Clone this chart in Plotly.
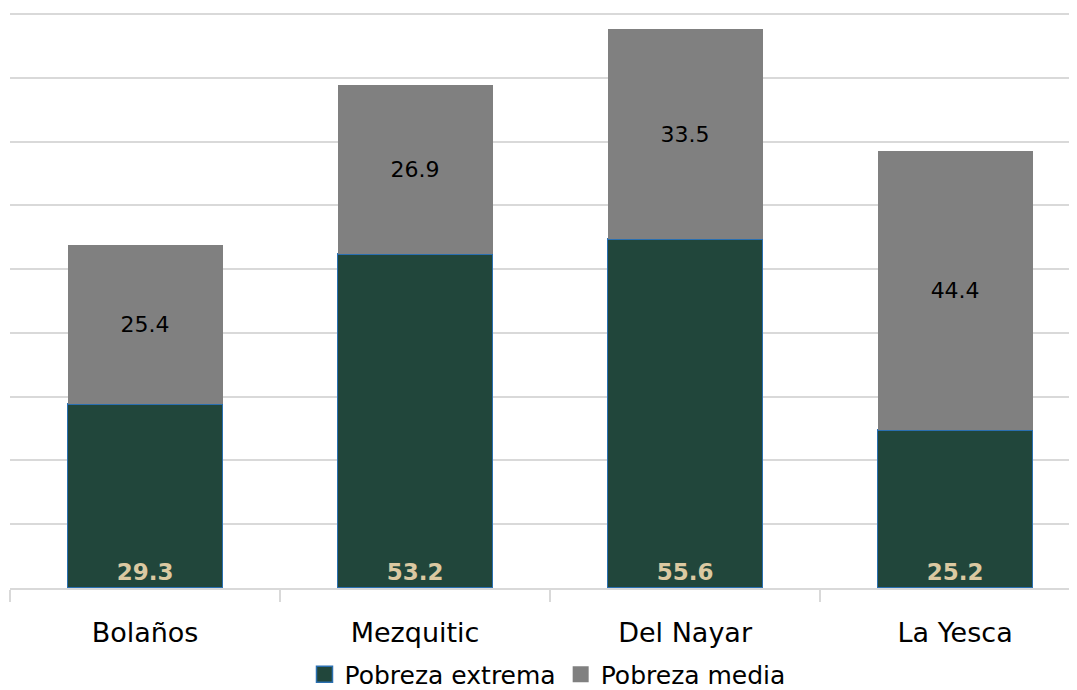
import plotly.graph_objects as go

categories = ["Bolaños", "Mezquitic", "Del Nayar", "La Yesca"]
pobreza_extrema = [29.3, 53.2, 55.6, 25.2]
pobreza_media = [25.4, 26.9, 33.5, 44.4]

FONT = "DejaVu Sans"
GREEN = "#21463B"
GREY = "#808080"
Y_GRID_TOP = 91.5

fig = go.Figure()
fig.add_trace(go.Bar(
    x=categories, y=pobreza_extrema, name="Pobreza extrema", showlegend=False,
    marker=dict(color=GREEN, line=dict(color="#2A6FB0", width=1.5)),
    text=[f"{v:.1f}" for v in pobreza_extrema],
    textposition="inside", insidetextanchor="start",
    textfont=dict(family=FONT, size=23, color="#DBC9A2", weight="bold"),
    textangle=0,
))
fig.add_trace(go.Bar(
    x=categories, y=pobreza_media, name="Pobreza media", showlegend=False,
    marker=dict(color=GREY, line=dict(width=0)),
    text=[f"{v:.1f}" for v in pobreza_media],
    textposition="inside", insidetextanchor="middle",
    textfont=dict(family=FONT, size=22, color="#000000"),
    textangle=0,
))
# legend entries with larger square swatches
fig.add_trace(go.Scatter(
    x=[None], y=[None], mode="markers", name="Pobreza extrema",
    marker=dict(symbol="square", size=17, color=GREEN, line=dict(color="#2A6FB0", width=1.5)),
))
fig.add_trace(go.Scatter(
    x=[None], y=[None], mode="markers", name="Pobreza media",
    marker=dict(symbol="square", size=17, color=GREY),
))

fig.update_layout(
    barmode="stack",
    bargap=0.426,
    width=1077, height=690,
    margin=dict(l=2, r=0, t=3, b=103),
    paper_bgcolor="white", plot_bgcolor="white",
    font=dict(family=FONT, size=22, color="#000000"),
    legend=dict(orientation="h", x=0.5, xanchor="center", y=-0.15, yanchor="middle",
                font=dict(family=FONT, size=25), itemsizing="trace",
                traceorder="normal", itemwidth=30, tracegroupgap=0),
    uniformtext=dict(mode=False),
)
fig.update_xaxes(
    range=[-0.5, 3.481], automargin=False,
    tickson="boundaries", ticks="outside", ticklen=12, tickcolor="#D9D9D9", tickwidth=1.5,
    showline=True, linecolor="#D9D9D9", linewidth=1.5,
    tickfont=dict(family=FONT, size=27, color="#000000"),
    ticklabelstandoff=20,
    showgrid=False,
)
fig.update_yaxes(
    range=[0, 91.97], tick0=0, dtick=Y_GRID_TOP / 9, showticklabels=False, automargin=False,
    showgrid=True, gridcolor="#D9D9D9", gridwidth=1.5,
    zeroline=False, showline=False,
)

fig.write_html("out.html")
